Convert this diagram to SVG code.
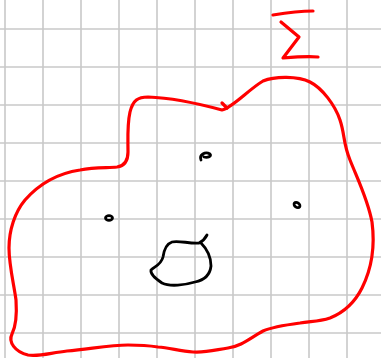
<svg xmlns="http://www.w3.org/2000/svg" width="381" height="358" viewBox="0 0 381 358">
  <style>
    .grid line { stroke: #c8c8c8; stroke-width: 1.6; }
    .red { fill: none; stroke: #ff0000; stroke-width: 3.2; stroke-linecap: round; stroke-linejoin: round; }
    .ink { fill: none; stroke: #000000; stroke-width: 2.8; stroke-linecap: round; stroke-linejoin: round; }
  </style>
  <rect width="381" height="358" fill="#ffffff"/>
  <g id="grid" class="grid">
    <line x1="5" y1="0" x2="5" y2="358"/>
    <line x1="43" y1="0" x2="43" y2="358"/>
    <line x1="81" y1="0" x2="81" y2="358"/>
    <line x1="119" y1="0" x2="119" y2="358"/>
    <line x1="157" y1="0" x2="157" y2="358"/>
    <line x1="195" y1="0" x2="195" y2="358"/>
    <line x1="233" y1="0" x2="233" y2="358"/>
    <line x1="271" y1="0" x2="271" y2="358"/>
    <line x1="309" y1="0" x2="309" y2="358"/>
    <line x1="347" y1="0" x2="347" y2="358"/>
    <line x1="0" y1="29" x2="381" y2="29"/>
    <line x1="0" y1="67" x2="381" y2="67"/>
    <line x1="0" y1="105" x2="381" y2="105"/>
    <line x1="0" y1="143" x2="381" y2="143"/>
    <line x1="0" y1="181" x2="381" y2="181"/>
    <line x1="0" y1="219" x2="381" y2="219"/>
    <line x1="0" y1="257" x2="381" y2="257"/>
    <line x1="0" y1="295" x2="381" y2="295"/>
    <line x1="0" y1="333" x2="381" y2="333"/>
  </g>
  <g id="region">
    <path class="red" d="M 148,97 C 175,98 200,104 222,110 C 232,108 248,90 263,81 C 275,76 298,76 310,82 C 322,88 335,105 340,120 C 345,135 343,143 350,160 C 358,180 368,200 372,222 C 375,245 372,268 362,288 C 355,302 345,312 330,318 C 318,322 310,321 300,323 C 285,325 272,327 263,331 C 250,338 242,346 228,348 C 215,350 205,353 193,352 C 180,351 170,348 158,347 C 145,345 138,345 128,345 C 110,345 90,349 67,351 C 50,353 38,357 28,355 C 15,352 8,342 12,334 C 16,326 17,315 16,300 C 14,285 9,265 9,248 C 9,230 15,212 25,200 C 40,183 60,173 80,170 C 95,167 108,168 117,167 C 124,166 128,162 128,152 C 128,140 127,125 130,112 C 133,100 138,97 148,97 Z"/>
    <path class="red" stroke-width="2" d="M 222,103 L 227,108"/>
  </g>
  <g id="sigma">
    <path class="red" stroke-width="4.2" d="M 273,15 C 285,13 300,11 313,11 M 281,22 L 299,37 L 283,58 C 295,57 308,56 318,57"/>
  </g>
  <g id="hole">
    <path class="ink" d="M 207,235 C 205,239 203,241 199,243 C 190,244 178,240 172,242 C 166,244 164,250 163,257 C 161,265 155,266 151,270 C 150,274 156,279 162,283 C 170,287 185,285 195,282 C 205,280 210,275 211,266 C 211,258 208,250 201,243"/>
  </g>
  <g id="points">
    <path class="ink" stroke-width="3.4" d="M 201,160 C 199,155 205,151 210,154 C 212,156 208,158 204,157"/>
    <ellipse class="ink" stroke-width="3" cx="109" cy="218" rx="3.5" ry="2.4"/>
    <ellipse class="ink" stroke-width="3" cx="297" cy="205" rx="3.2" ry="2.3" transform="rotate(35 297 205)"/>
  </g>
</svg>
